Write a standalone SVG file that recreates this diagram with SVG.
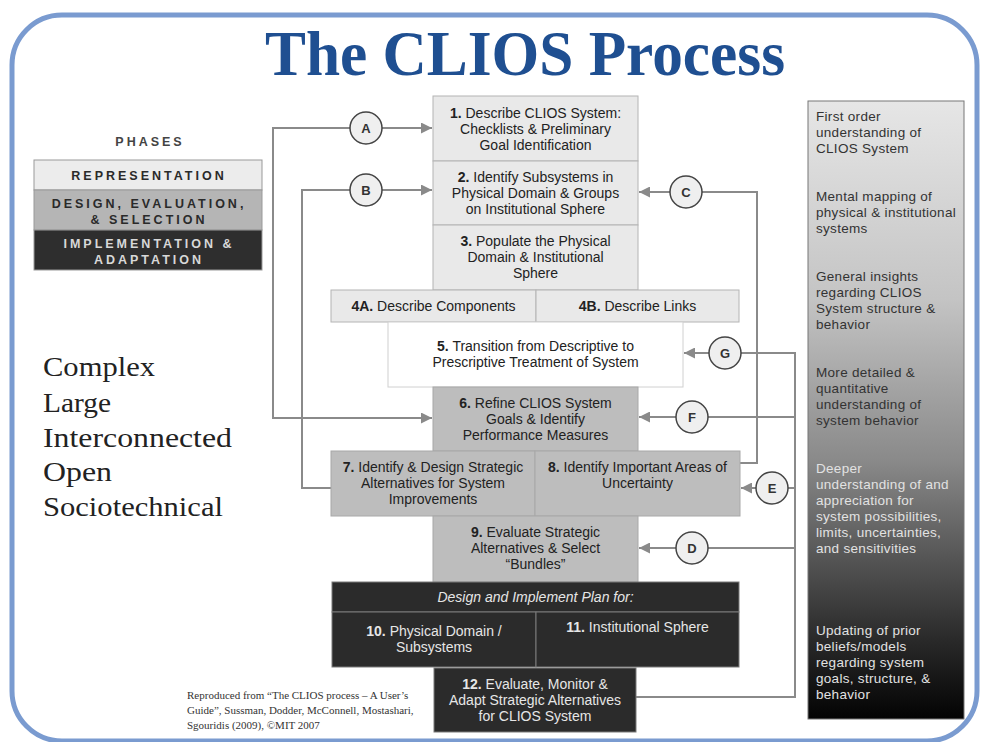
<svg xmlns="http://www.w3.org/2000/svg" width="981" height="742" viewBox="0 0 981 742">
<style>
.bx{font-family:"Liberation Sans",Arial,sans-serif;font-size:14px;fill:#222;text-anchor:middle}
.dk{fill:#e6e6e6}
.ph{font-family:"Liberation Sans",Arial,sans-serif;font-size:12.5px;font-weight:bold;letter-spacing:3px;text-anchor:middle}
.rt{font-family:"Liberation Sans",Arial,sans-serif;font-size:13.5px;letter-spacing:0.3px}
.lt{font-family:"Liberation Serif","Times New Roman",serif;font-size:28px;fill:#222}
.lb{font-family:"Liberation Sans",Arial,sans-serif;font-size:13px;font-weight:bold;fill:#333;text-anchor:middle}
.cn{fill:none;stroke:#8a8a8a;stroke-width:2}
.ci{fill:#efefef;stroke:#444;stroke-width:1.5}
.lbox{fill:#e9e9e9;stroke:#b4b4b4;stroke-width:1}
.mbox{fill:#bdbdbd;stroke:#a8a8a8;stroke-width:1}
.dbox{fill:#2b2b2b;stroke:#7a7a7a;stroke-width:1}
</style>
<defs>
<marker id="ar" viewBox="0 0 10 10" refX="10" refY="5" markerWidth="12" markerHeight="11" markerUnits="userSpaceOnUse" orient="auto">
<path d="M0,0 L10,5 L0,10 z" fill="#8a8a8a"/>
</marker>
<linearGradient id="rg" x1="0" y1="0" x2="0" y2="1">
<stop offset="0" stop-color="#e6e6e6"/>
<stop offset="0.32" stop-color="#c4c4c4"/>
<stop offset="0.48" stop-color="#a0a0a0"/>
<stop offset="0.58" stop-color="#8a8a8a"/>
<stop offset="0.74" stop-color="#555"/>
<stop offset="0.87" stop-color="#2a2a2a"/>
<stop offset="1" stop-color="#030303"/>
</linearGradient>
</defs>
<rect width="981" height="742" fill="#fff"/>
<rect x="12" y="15" width="965" height="726" rx="50" fill="#fff" stroke="#7a9bd0" stroke-width="5"/>
<text x="525" y="75" font-family="'Liberation Serif','Times New Roman',serif" font-size="64" font-weight="bold" fill="#1f4f91" text-anchor="middle" textLength="520" lengthAdjust="spacingAndGlyphs">The CLIOS Process</text>

<g id="phases">
<text class="ph" x="150" y="146" fill="#444" font-size="12" font-weight="normal">PHASES</text>
<rect x="34" y="160" width="228" height="30" fill="#ececec" stroke="#999"/>
<rect x="34" y="190" width="228" height="40" fill="#b5b5b5" stroke="#999"/>
<rect x="34" y="230" width="228" height="40" fill="#2e2e2e" stroke="#999"/>
<text class="ph" x="149" y="180" fill="#2a2a2a">REPRESENTATION</text>
<text class="ph" x="149" y="208" fill="#2a2a2a">DESIGN, EVALUATION,</text>
<text class="ph" x="149" y="224" fill="#2a2a2a">&amp; SELECTION</text>
<text class="ph" x="149" y="248" fill="#d8d8d8">IMPLEMENTATION &amp;</text>
<text class="ph" x="149" y="264" fill="#d8d8d8">ADAPTATION</text>
</g>

<g id="clios-text">
<text class="lt" x="43" y="376" textLength="112" lengthAdjust="spacingAndGlyphs">Complex</text>
<text class="lt" x="43" y="412" textLength="68" lengthAdjust="spacingAndGlyphs">Large</text>
<text class="lt" x="43" y="447" textLength="189" lengthAdjust="spacingAndGlyphs">Interconnected</text>
<text class="lt" x="43" y="481" textLength="69" lengthAdjust="spacingAndGlyphs">Open</text>
<text class="lt" x="43" y="516" textLength="180" lengthAdjust="spacingAndGlyphs">Sociotechnical</text>
</g>

<g id="credit" font-family="'Liberation Serif','Times New Roman',serif" font-size="11" fill="#333">
<text x="187" y="699">Reproduced from “The CLIOS process – A User’s</text>
<text x="187" y="714">Guide”, Sussman, Dodder, McConnell, Mostashari,</text>
<text x="187" y="729">Sgouridis (2009), ©MIT 2007</text>
</g>

<g id="understanding">
<rect x="808" y="101" width="156" height="618" fill="url(#rg)" stroke="#777"/>
<g class="rt" fill="#333">
<text x="816" y="121">First order</text>
<text x="816" y="137">understanding of</text>
<text x="816" y="153">CLIOS System</text>
<text x="816" y="201">Mental mapping of</text>
<text x="816" y="217">physical &amp; institutional</text>
<text x="816" y="233">systems</text>
<text x="816" y="281">General insights</text>
<text x="816" y="297">regarding CLIOS</text>
<text x="816" y="313">System structure &amp;</text>
<text x="816" y="329">behavior</text>
<text x="816" y="377">More detailed &amp;</text>
<text x="816" y="393">quantitative</text>
<text x="816" y="409">understanding of</text>
<text x="816" y="425">system behavior</text>
</g>
<g class="rt" fill="#e2e2e2">
<text x="816" y="473">Deeper</text>
<text x="816" y="489">understanding of and</text>
<text x="816" y="505">appreciation for</text>
<text x="816" y="521">system possibilities,</text>
<text x="816" y="537">limits, uncertainties,</text>
<text x="816" y="553">and sensitivities</text>
<text x="816" y="635">Updating of prior</text>
<text x="816" y="651">beliefs/models</text>
<text x="816" y="667">regarding system</text>
<text x="816" y="683">goals, structure, &amp;</text>
<text x="816" y="699">behavior</text>
</g>
</g>

<g id="connectors">
<path class="cn" d="M350,128 H273 V418 H432" marker-end="url(#ar)"/>
<path class="cn" d="M382,128 H432" marker-end="url(#ar)"/>
<path class="cn" d="M350,190 H302 V488 H331"/>
<path class="cn" d="M382,190 H432" marker-end="url(#ar)"/>
<path class="cn" d="M670,192 H639" marker-end="url(#ar)"/>
<path class="cn" d="M702,192 H757 V463 H740"/>
<path class="cn" d="M709,353 H684" marker-end="url(#ar)"/>
<path class="cn" d="M741,353 H795 V697 H636"/>
<path class="cn" d="M676,417 H639" marker-end="url(#ar)"/>
<path class="cn" d="M708,417 H795"/>
<path class="cn" d="M756,488 H741" marker-end="url(#ar)"/>
<path class="cn" d="M788,488 H795"/>
<path class="cn" d="M676,548 H639" marker-end="url(#ar)"/>
<path class="cn" d="M708,548 H795"/>
</g>

<g id="circle-A"><circle class="ci" cx="366" cy="128" r="16"/><text class="lb" x="366" y="133">A</text></g>
<g id="circle-B"><circle class="ci" cx="366" cy="190" r="16"/><text class="lb" x="366" y="195">B</text></g>
<g id="circle-C"><circle class="ci" cx="686" cy="192" r="16"/><text class="lb" x="686" y="197">C</text></g>
<g id="circle-G"><circle class="ci" cx="725" cy="353" r="16"/><text class="lb" x="725" y="358">G</text></g>
<g id="circle-F"><circle class="ci" cx="692" cy="417" r="16"/><text class="lb" x="692" y="422">F</text></g>
<g id="circle-E"><circle class="ci" cx="772" cy="488" r="16"/><text class="lb" x="772" y="493">E</text></g>
<g id="circle-D"><circle class="ci" cx="692" cy="548" r="16"/><text class="lb" x="692" y="553">D</text></g>

<g id="step1">
<rect class="lbox" x="433" y="96" width="205" height="65"/>
<text class="bx" x="535.5" y="118"><tspan font-weight="bold">1.</tspan> Describe CLIOS System:</text>
<text class="bx" x="535.5" y="134">Checklists &amp; Preliminary</text>
<text class="bx" x="535.5" y="150">Goal Identification</text>
</g>
<g id="step2">
<rect class="lbox" x="433" y="161" width="205" height="64"/>
<text class="bx" x="535.5" y="182"><tspan font-weight="bold">2.</tspan> Identify Subsystems in</text>
<text class="bx" x="535.5" y="198">Physical Domain &amp; Groups</text>
<text class="bx" x="535.5" y="214">on Institutional Sphere</text>
</g>
<g id="step3">
<rect class="lbox" x="433" y="225" width="205" height="65"/>
<text class="bx" x="535.5" y="246"><tspan font-weight="bold">3.</tspan> Populate the Physical</text>
<text class="bx" x="535.5" y="262">Domain &amp; Institutional</text>
<text class="bx" x="535.5" y="278">Sphere</text>
</g>
<g id="step4A">
<rect class="lbox" x="331" y="290" width="205" height="32"/>
<text class="bx" x="433.5" y="311"><tspan font-weight="bold">4A.</tspan> Describe Components</text>
</g>
<g id="step4B">
<rect class="lbox" x="536" y="290" width="203" height="32"/>
<text class="bx" x="637.5" y="311"><tspan font-weight="bold">4B.</tspan> Describe Links</text>
</g>
<g id="step5">
<rect x="388" y="322" width="295" height="65" fill="#fff" stroke="#d0d0d0"/>
<text class="bx" x="535.5" y="351"><tspan font-weight="bold">5.</tspan> Transition from Descriptive to</text>
<text class="bx" x="535.5" y="367">Prescriptive Treatment of System</text>
</g>
<g id="step6">
<rect class="mbox" x="433" y="387" width="205" height="64"/>
<text class="bx" x="535.5" y="408"><tspan font-weight="bold">6.</tspan> Refine CLIOS System</text>
<text class="bx" x="535.5" y="424">Goals &amp; Identify</text>
<text class="bx" x="535.5" y="440">Performance Measures</text>
</g>
<g id="step7">
<rect class="mbox" x="331" y="451" width="204" height="65"/>
<text class="bx" x="433" y="472"><tspan font-weight="bold">7.</tspan> Identify &amp; Design Strategic</text>
<text class="bx" x="433" y="488">Alternatives for System</text>
<text class="bx" x="433" y="504">Improvements</text>
</g>
<g id="step8">
<rect class="mbox" x="535" y="451" width="205" height="65"/>
<text class="bx" x="637.5" y="472"><tspan font-weight="bold">8.</tspan> Identify Important Areas of</text>
<text class="bx" x="637.5" y="488">Uncertainty</text>
</g>
<g id="step9">
<rect class="mbox" x="433" y="516" width="205" height="66"/>
<text class="bx" x="535.5" y="537"><tspan font-weight="bold">9.</tspan> Evaluate Strategic</text>
<text class="bx" x="535.5" y="553">Alternatives &amp; Select</text>
<text class="bx" x="535.5" y="569">“Bundles”</text>
</g>
<g id="plan-header">
<rect class="dbox" x="332" y="582" width="407" height="30"/>
<text class="bx dk" x="535.5" y="602" font-style="italic">Design and Implement Plan for:</text>
</g>
<g id="step10">
<rect class="dbox" x="332" y="612" width="204" height="55"/>
<text class="bx dk" x="434" y="636"><tspan font-weight="bold">10.</tspan> Physical Domain /</text>
<text class="bx dk" x="434" y="652">Subsystems</text>
</g>
<g id="step11">
<rect class="dbox" x="536" y="612" width="203" height="55"/>
<text class="bx dk" x="637.5" y="632"><tspan font-weight="bold">11.</tspan> Institutional Sphere</text>
</g>
<g id="step12">
<rect class="dbox" x="434" y="668" width="202" height="64"/>
<text class="bx dk" x="535" y="689"><tspan font-weight="bold">12.</tspan> Evaluate, Monitor &amp;</text>
<text class="bx dk" x="535" y="705">Adapt Strategic Alternatives</text>
<text class="bx dk" x="535" y="721">for CLIOS System</text>
</g>
</svg>
